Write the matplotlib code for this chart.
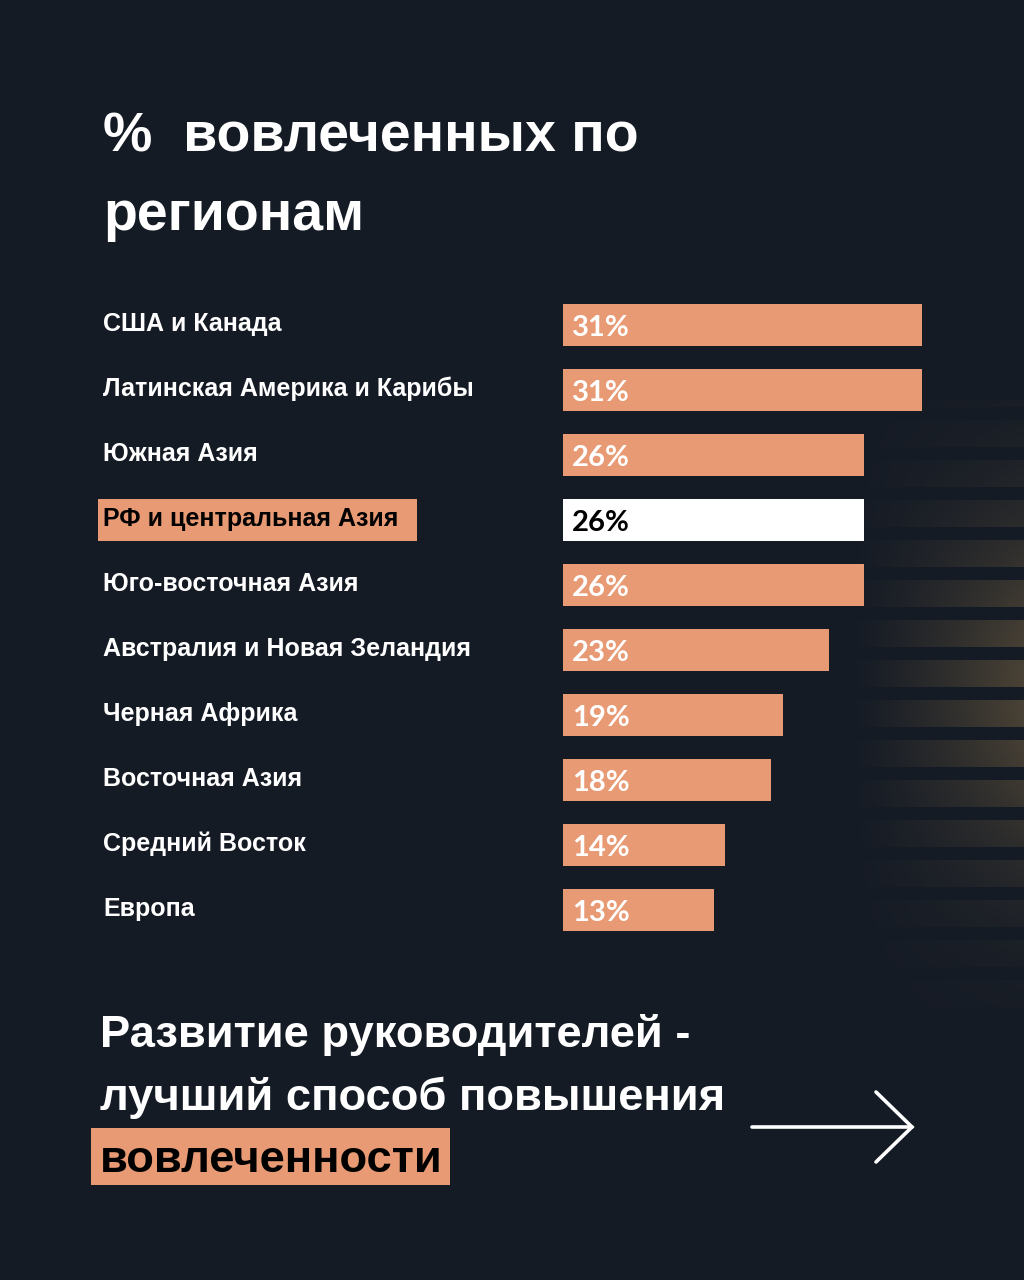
import numpy as np
import matplotlib
matplotlib.use("Agg")
import matplotlib.pyplot as plt
from matplotlib.patches import Rectangle
from matplotlib.transforms import blended_transform_factory

# данные
regions = [
    "США и Канада",
    "Латинская Америка и Карибы",
    "Южная Азия",
    "РФ и центральная Азия",
    "Юго-восточная Азия",
    "Австралия и Новая Зеландия",
    "Черная Африка",
    "Восточная Азия",
    "Средний Восток",
    "Европа",
]
values = [31, 31, 26, 26, 26, 23, 19, 18, 14, 13]
highlight = "РФ и центральная Азия"

title_lines = ["%  вовлеченных по", "регионам"]
footer_lines = ["Развитие руководителей -", "лучший способ повышения", "вовлеченности"]

BG = "#151b25"
ORANGE = "#e89a74"
FONT = "Liberation Sans"

W, H = 1024, 1280
fig = plt.figure(figsize=(W / 100, H / 100), dpi=100)
fig.patch.set_facecolor(BG)

# фон в пикселях
bg = fig.add_axes([0, 0, 1, 1])
bg.axis("off")
bg.set_facecolor(BG)

# декоративные полосы справа
x0, x1, y0, y1 = 840, W, 400, 1010
yy, xx = np.mgrid[y0:y1, x0:x1]
stripe = (((yy - 567) % 40) >= 13).astype(float)
fx = np.clip((xx - 850) / 174.0, 0, 1) ** 1.2
fy = np.exp(-((yy - 690) / 180.0) ** 2)
k = (stripe * fx * fy)[..., None]
c_bg = np.array([21, 27, 37]) / 255.0
c_lt = np.array([74, 66, 53]) / 255.0
img = c_bg + k * (c_lt - c_bg)
bg.imshow(img, extent=(x0, x1, y1, y0), aspect="auto", interpolation="bilinear", zorder=0)
bg.set_xlim(0, W)
bg.set_ylim(H, 0)

# заголовок
bg.text(103, 152, title_lines[0], color="white", fontsize=40, fontweight="bold",
        family=FONT, va="baseline")
bg.text(103, 230, title_lines[1], color="white", fontsize=40, fontweight="bold",
        family=FONT, va="baseline")

# столбцы
ax = fig.add_axes([563 / W, 1 - 942.5 / H, 359 / W, 650 / H])
ax.set_xlim(0, 31)
ax.set_ylim(len(regions) - 0.5, -0.5)
ax.axis("off")
y = np.arange(len(regions))
colors = ["white" if r == highlight else ORANGE for r in regions]
ax.barh(y, values, height=0.65, color=colors)

trans = blended_transform_factory(fig.transFigure, ax.transData)
for i, (r, v) in enumerate(zip(regions, values)):
    is_hl = r == highlight
    ax.text(0.75, i + 0.05, f"{v}%", color="black" if is_hl else "white",
            fontsize=21, fontweight="bold", family="Lato", va="center", ha="left")
    if is_hl:
        ax.add_patch(Rectangle((98 / W, i - 0.325), 319 / W, 0.65, transform=trans,
                               fc=ORANGE, ec="none", clip_on=False))
    ax.text(103 / W, i - 0.02, r, transform=trans, color="black" if is_hl else "white",
            fontsize=18, fontweight="bold", family=FONT, va="center", ha="left",
            clip_on=False)

# нижний текст
for yb, line in zip([1047, 1110], footer_lines[:2]):
    bg.text(100, yb, line, color="white", fontsize=32.7, fontweight="bold",
            family=FONT, va="baseline")
bg.add_patch(Rectangle((91, 1128), 359, 57, fc=ORANGE, ec="none"))
bg.text(100, 1172, footer_lines[2], color="black", fontsize=32.7, fontweight="bold",
        family=FONT, va="baseline")

# стрелка
bg.plot([752, 912], [1127, 1127], color="white", lw=2.6, solid_capstyle="round")
bg.plot([876, 912, 876], [1092, 1127, 1162], color="white", lw=2.6,
        solid_capstyle="round", solid_joinstyle="miter")

fig.savefig("out.png", dpi=100, facecolor=BG)
